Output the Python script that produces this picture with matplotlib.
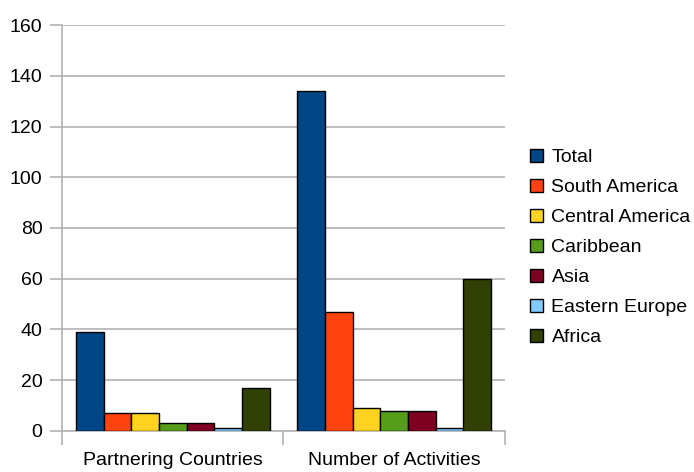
import numpy as np
import matplotlib.pyplot as plt

plt.rcParams['font.family'] = ['Liberation Sans', 'DejaVu Sans']

categories = ['Partnering Countries', 'Number of Activities']
regions = ['Total', 'South America', 'Central America', 'Caribbean',
           'Asia', 'Eastern Europe', 'Africa']
values = {
    'Total':           [39, 134],
    'South America':   [7, 47],
    'Central America': [7, 9],
    'Caribbean':       [3, 8],
    'Asia':            [3, 8],
    'Eastern Europe':  [1, 1],
    'Africa':          [17, 60],
}
colors = ['#004586', '#ff420e', '#ffd320', '#579d1c',
          '#7e0021', '#83caff', '#314004']

fig = plt.figure(figsize=(6.94, 4.72), dpi=100)
ax = fig.add_axes([0.0893, 0.0869, 0.6384, 0.8601])

x = np.arange(len(categories))
n = len(regions)
group_w = 0.875
w = group_w / n
for i, (name, c) in enumerate(zip(regions, colors)):
    pos = x - group_w / 2 + w * (i + 0.5)
    ax.bar(pos, values[name], width=w, color=c, edgecolor='black',
           linewidth=1.0, label=name, zorder=3)

ax.set_xlim(-0.5, len(categories) - 0.5)
ax.set_ylim(0, 160)
ax.set_yticks(np.arange(0, 161, 20))
ax.grid(axis='y', color='#b3b3b3', linewidth=1.2, zorder=0)

# tick marks at category boundaries, labels at category centres
ax.set_xticks(np.arange(-0.5, len(categories)), labels=[''] * (len(categories) + 1))
ax.set_xticks(x, labels=categories, minor=True)
ax.tick_params(axis='x', which='major', length=10, width=1.2, color='#b3b3b3')
ax.tick_params(axis='x', which='minor', length=0, pad=15, labelsize=14)
ax.tick_params(axis='y', length=9, width=1.2, color='#b3b3b3', labelsize=14, pad=5)

for side in ['top', 'right']:
    ax.spines[side].set_visible(False)
for side in ['left', 'bottom']:
    ax.spines[side].set_color('#b3b3b3')
    ax.spines[side].set_linewidth(1.2)

leg = ax.legend(loc='center left', bbox_to_anchor=(1.039, 0.452), frameon=False,
                fontsize=14, handlelength=0.65, handleheight=0.65,
                handletextpad=0.45, labelspacing=0.65, borderaxespad=0)

fig.savefig('out.png', dpi=100)
